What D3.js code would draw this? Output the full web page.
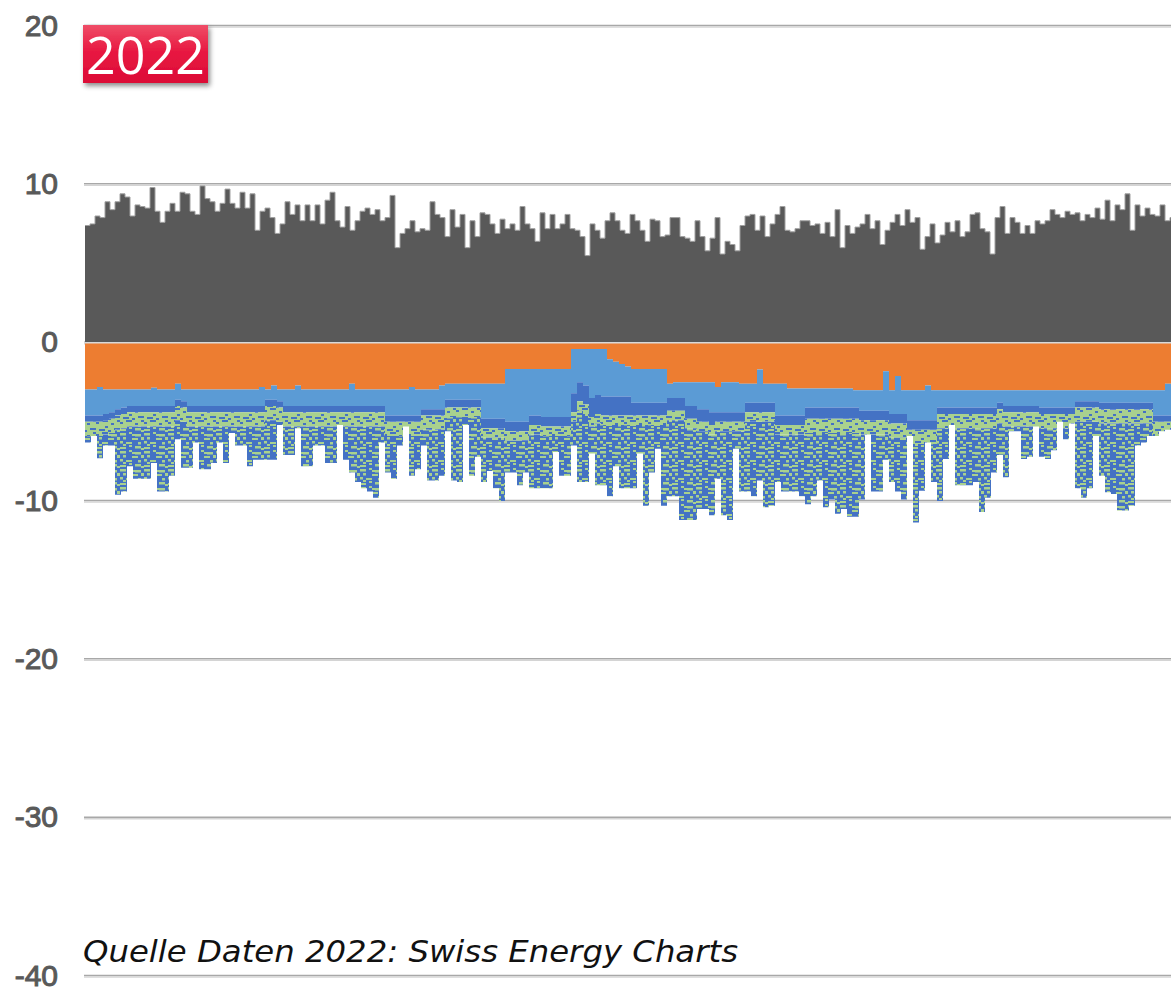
<!DOCTYPE html>
<html>
<head>
<meta charset="utf-8">
<script src="https://cdn.jsdelivr.net/npm/d3@7"></script>
<style>
  html, body { margin: 0; padding: 0; background: #fff; }
</style>
</head>
<body>
<div id="chart"></div>
<script>
// Positive side (grey), one value every ~5px of the original
const production = [
  7.4,7.5,8.0,7.9,8.9,8.4,8.9,9.4,9.2,8.0,
  8.7,8.6,8.5,9.8,8.3,7.6,8.3,8.8,8.3,9.5,
  9.4,8.3,8.1,9.9,9.1,8.9,8.3,8.8,9.7,8.8,
  8.5,9.5,8.5,9.4,7.1,8.3,8.5,7.9,6.9,7.5,
  8.9,8.1,8.7,7.7,8.7,7.7,8.7,7.5,9.0,9.5,
  7.7,7.3,8.6,7.1,7.7,8.3,8.5,8.1,8.4,7.7,
  7.9,9.3,6.0,6.9,7.2,7.7,7.0,7.2,7.1,8.9,
  8.1,7.9,6.7,8.4,7.3,8.1,6.0,7.7,6.7,8.2,
  8.1,7.5,6.9,7.8,7.2,7.5,7.1,8.6,7.5,7.2,
  6.4,8.2,7.2,8.1,7.2,7.5,8.1,7.2,7.1,6.7,
  5.5,7.5,7.1,6.6,7.7,8.2,7.7,7.1,6.9,8.1,
  7.7,7.1,6.4,7.8,7.7,6.7,6.8,7.9,7.9,6.7,
  6.6,6.4,7.7,6.7,5.8,6.6,7.9,5.6,6.4,6.2,
  5.8,7.4,8.0,8.1,7.1,8.0,6.7,7.5,8.1,8.6,
  7.1,7.0,7.2,7.7,7.7,7.4,7.5,6.9,7.6,6.7,
  8.4,6.0,7.4,6.9,7.3,7.5,8.1,7.2,7.7,6.2,
  7.1,7.6,8.1,7.4,8.4,7.6,7.9,5.9,6.7,7.5,
  6.3,6.8,7.6,7.0,7.7,6.7,7.0,8.1,8.2,7.2,
  7.0,5.6,7.9,8.6,6.9,7.9,7.6,6.9,7.4,6.9,
  7.7,7.5,7.7,8.4,8.1,7.9,8.3,8.1,8.2,7.7,
  8.1,7.9,8.5,7.8,9.0,7.7,8.7,8.4,9.4,7.1,
  8.7,8.0,8.5,8.1,8.0,8.7,7.7,7.9
];

// Negative side, one value every ~6px (magnitudes, stacked downward)
const orange = [
  2.95,2.95,2.8,2.95,2.95,2.95,2.95,2.95,2.95,2.95,
  2.95,2.85,2.95,2.95,2.95,2.6,2.95,2.95,2.95,2.95,
  2.95,2.95,2.95,2.95,2.95,2.95,2.95,2.95,2.95,2.8,
  2.95,2.7,2.95,2.95,2.95,2.7,2.95,2.95,2.95,2.95,
  2.95,2.95,2.95,2.95,2.6,2.95,2.95,2.95,2.95,2.95,
  2.95,2.95,2.95,2.95,2.8,2.95,2.95,2.95,2.95,2.7,
  2.6,2.6,2.6,2.6,2.6,2.6,2.6,2.6,2.6,2.6,
  1.66,1.66,1.66,1.66,1.66,1.66,1.66,1.66,1.66,1.66,
  1.66,0.4,0.4,0.4,0.4,0.4,0.4,1.05,1.2,1.35,
  1.5,1.66,1.66,1.66,1.66,1.66,1.66,2.6,2.5,2.5,
  2.5,2.5,2.5,2.5,2.5,2.8,2.5,2.5,2.5,2.6,
  2.6,2.6,1.7,2.6,2.6,2.6,2.6,2.9,2.9,2.9,
  2.9,2.9,2.9,2.9,2.9,2.9,2.9,2.9,3.0,3.0,
  3.0,3.0,3.0,1.8,3.0,2.1,3.0,3.0,3.0,3.0,
  2.7,3.0,3.0,3.0,3.0,3.0,3.0,3.0,3.0,3.0,
  3.0,3.0,3.0,3.0,3.0,3.0,3.0,3.0,3.0,3.0,
  3.0,3.0,3.0,3.0,3.0,3.0,3.0,3.0,3.0,3.0,
  3.0,3.0,3.0,3.0,3.0,3.0,3.0,3.0,3.0,3.0,
  2.6
];

const lightBlue = [
  1.65,1.65,1.8,1.55,1.45,1.25,1.15,1.05,1.05,1.05,
  1.05,1.15,1.05,1.05,1.05,1.0,0.75,1.05,1.05,1.05,
  1.05,1.05,1.05,1.05,1.05,1.05,1.05,1.05,1.05,1.2,
  0.65,0.9,0.75,1.05,1.05,1.3,1.05,1.05,1.05,1.05,
  1.05,1.05,1.05,1.05,1.4,1.05,1.05,1.05,1.05,1.05,
  1.65,1.65,1.65,1.65,1.8,1.65,1.25,1.25,1.25,1.5,
  1.0,1.0,1.0,1.0,1.0,1.0,2.2,2.2,2.2,2.2,
  3.34,3.34,3.34,3.34,2.94,2.94,3.04,3.04,3.04,3.04,
  3.04,2.8,2.1,2.3,3.1,2.9,3.0,2.35,2.2,2.05,
  1.9,2.14,2.14,2.14,2.14,2.14,2.14,0.9,1.0,1.0,
  1.5,1.5,1.7,1.7,1.9,1.6,1.9,1.9,1.9,1.8,
  1.2,1.2,2.1,1.2,1.2,2.0,2.0,1.7,1.7,1.7,
  1.2,1.2,1.2,1.2,1.2,1.2,1.2,1.2,1.1,1.3,
  1.3,1.3,1.3,2.5,1.5,2.4,1.5,1.9,1.9,1.9,
  2.2,1.9,1.1,1.1,1.1,1.1,1.1,1.1,1.1,1.1,
  1.1,1.1,0.8,1.0,1.0,1.0,1.0,1.0,1.0,1.1,
  1.1,1.1,1.1,1.1,1.1,0.7,0.7,0.7,0.7,0.8,
  0.8,0.8,0.8,0.8,0.8,0.8,0.8,0.8,1.6,1.6,
  2.0
];

const darkBlue = [
  0.4,0.4,0.4,0.4,0.4,0.4,0.4,0.4,0.4,0.4,
  0.4,0.4,0.4,0.4,0.4,0.4,0.4,0.4,0.4,0.4,
  0.4,0.4,0.4,0.4,0.4,0.4,0.4,0.4,0.4,0.4,
  0.4,0.4,0.4,0.4,0.4,0.4,0.4,0.4,0.4,0.4,
  0.4,0.4,0.4,0.4,0.4,0.4,0.4,0.4,0.4,0.4,
  0.4,0.4,0.4,0.4,0.4,0.4,0.4,0.4,0.4,0.4,
  0.5,0.5,0.5,0.5,0.5,0.5,0.6,0.6,0.6,0.6,
  0.6,0.6,0.6,0.6,0.6,0.6,0.6,0.6,0.6,0.6,
  0.6,1.2,1.2,1.2,1.2,1.2,1.2,1.2,1.2,1.2,
  1.2,0.8,0.8,0.8,0.8,0.8,0.8,0.8,0.8,0.8,
  0.8,0.8,0.8,0.8,0.8,0.6,0.6,0.6,0.6,0.6,
  0.6,0.6,0.6,0.6,0.6,0.6,0.6,0.6,0.6,0.6,
  0.7,0.7,0.7,0.7,0.7,0.7,0.7,0.7,0.7,0.6,
  0.6,0.6,0.6,0.6,0.6,0.6,0.6,0.6,0.6,0.6,
  0.6,0.6,0.4,0.4,0.4,0.4,0.4,0.4,0.4,0.4,
  0.4,0.4,0.4,0.4,0.4,0.4,0.4,0.4,0.4,0.4,
  0.4,0.4,0.4,0.4,0.4,0.4,0.4,0.4,0.4,0.4,
  0.4,0.4,0.4,0.4,0.4,0.4,0.4,0.4,0.4,0.4,
  0.4
];

const green = [
  0.9,0.9,0.9,0.9,0.9,0.9,0.9,0.9,0.9,0.9,
  0.9,0.9,0.9,0.9,0.9,0.9,0.9,0.9,0.9,0.9,
  0.9,0.9,0.9,0.9,0.9,0.9,0.9,0.9,0.9,0.9,
  0.9,0.9,0.9,0.9,0.9,0.9,0.9,0.9,0.9,0.9,
  0.9,0.9,0.9,0.9,0.9,0.9,0.9,0.9,0.9,0.9,
  0.9,0.9,0.9,0.9,0.9,0.9,0.9,0.9,0.9,0.9,
  0.6,0.6,0.6,0.6,0.6,0.6,0.6,0.6,0.6,0.6,
  0.6,0.6,0.6,0.6,0.6,0.6,0.6,0.6,0.6,0.6,
  0.6,0.6,0.6,0.6,0.6,0.6,0.6,0.6,0.6,0.6,
  0.6,0.6,0.6,0.6,0.6,0.6,0.6,0.6,0.6,0.6,
  0.6,0.6,0.6,0.6,0.6,0.6,0.6,0.6,0.6,0.6,
  0.6,0.6,0.6,0.6,0.6,0.6,0.6,0.6,0.6,0.6,
  0.9,0.9,0.9,0.9,0.9,0.9,0.9,0.9,0.9,0.9,
  0.9,0.9,0.9,0.9,0.9,0.9,0.9,0.9,0.9,0.9,
  0.9,0.9,0.9,0.9,0.9,0.9,0.9,0.9,0.9,0.9,
  0.9,0.9,0.9,0.9,0.9,0.9,0.9,0.9,0.9,0.9,
  0.9,0.9,0.9,0.9,0.9,0.9,0.9,0.9,0.9,0.9,
  0.9,0.9,0.9,0.9,0.9,0.9,0.9,0.9,0.9,0.9,
  0.9
];

// total depth of the negative stack (bottom edge)
const totalNeg = [
  6.3,5.9,7.3,6.5,6.5,9.6,9.4,7.8,8.6,8.6,
  8.6,7.6,9.4,9.4,8.4,6.1,7.9,7.9,6.3,8.0,
  8.0,7.6,6.3,7.6,5.7,6.5,6.5,7.8,7.4,7.4,
  7.4,7.4,5.2,7.1,7.1,5.4,7.8,7.8,6.5,6.5,
  7.6,7.6,5.2,7.4,8.2,8.8,9.2,9.4,9.8,6.3,
  8.2,8.6,6.5,5.3,8.4,8.0,6.5,8.7,8.7,8.4,
  5.6,8.7,8.8,5.2,8.4,7.2,8.8,8.1,9.2,10.0,
  8.2,8.2,9.0,8.2,9.2,9.2,9.2,9.2,6.9,8.4,
  8.4,6.5,8.8,8.8,7.0,9.0,9.0,9.7,7.8,9.2,
  9.2,9.2,7.0,10.3,8.2,6.7,10.3,9.7,9.7,11.2,
  11.2,11.2,10.5,10.5,10.9,8.6,10.9,11.2,6.7,9.4,
  9.4,9.7,8.7,10.4,10.3,8.8,9.4,9.4,9.4,9.7,
  10.2,9.7,8.7,10.4,9.9,10.8,10.5,11.0,11.0,9.9,
  5.8,9.4,9.4,7.4,8.8,9.4,9.9,5.9,11.35,9.35,
  6.3,8.8,10.0,7.35,5.2,9.0,9.0,9.0,8.8,10.7,
  9.8,8.2,7.1,8.5,5.6,5.6,7.35,7.2,5.3,7.2,
  7.35,6.8,5.0,6.1,5.1,9.2,9.8,9.2,5.9,8.4,
  9.45,9.55,10.6,10.6,10.3,6.5,6.3,5.9,5.9,5.6,
  5.5
];

const yTicks = [20, 10, 0, -10, -20, -30, -40];
const yearLabel = '2022';
const sourceLabel = 'Quelle Daten 2022: Swiss Energy Charts';

const W = 1171, H = 987;
const plotLeft = 85, plotRight = 1171;

const y = d3.scaleLinear().domain([-40, 20]).range([976, 26]);
const xPos = d3.scaleLinear().domain([0, production.length]).range([plotLeft, plotLeft + 5 * production.length]);
const xNeg = d3.scaleLinear().domain([0, totalNeg.length]).range([plotLeft, plotRight]);

const svg = d3.select('#chart').append('svg')
  .attr('width', W).attr('height', H)
  .style('background', '#fff');

const defs = svg.append('defs');

// speckle textures for the hourly blue/green mix (3px wide columns)
const patBlue = defs.append('pattern').attr('id', 'mixBlue')
  .attr('patternUnits', 'userSpaceOnUse').attr('width', 24).attr('height', 18);
patBlue.append('rect').attr('width', 24).attr('height', 18).attr('fill', '#4472C4');
[[0, 1, 6, 2.5], [9, 0, 3, 2], [15, 2, 6, 2.5], [3, 5, 3, 2.5], [12, 6, 6, 2], [21, 5, 3, 3],
 [0, 9, 3, 2.5], [6, 10, 6, 2], [18, 10, 3, 2.5], [9, 13, 3, 2], [15, 14, 6, 2.5], [0, 15, 6, 2],
 [21, 16, 3, 2], [12, 2, 3, 2], [3, 12, 3, 2]]
  .forEach(r => {
    patBlue.append('rect').attr('x', r[0]).attr('y', r[1]).attr('width', r[2]).attr('height', r[3]).attr('fill', '#A9D18E');
  });

const patGreen = defs.append('pattern').attr('id', 'mixGreen')
  .attr('patternUnits', 'userSpaceOnUse').attr('width', 24).attr('height', 12);
patGreen.append('rect').attr('width', 24).attr('height', 12).attr('fill', '#A9D18E');
[[0, 2, 3, 2], [6, 0, 6, 2], [15, 3, 3, 2], [9, 6, 3, 2], [18, 8, 6, 2], [3, 9, 6, 2], [21, 0, 3, 2], [12, 10, 3, 2]]
  .forEach(r => {
    patGreen.append('rect').attr('x', r[0]).attr('y', r[1]).attr('width', r[2]).attr('height', r[3]).attr('fill', '#4472C4');
  });

const grad = defs.append('linearGradient').attr('id', 'badgeGrad')
  .attr('x1', 0).attr('y1', 0).attr('x2', 0).attr('y2', 1);
grad.append('stop').attr('offset', '0%').attr('stop-color', '#EF4D67');
grad.append('stop').attr('offset', '45%').attr('stop-color', '#E81942');
grad.append('stop').attr('offset', '100%').attr('stop-color', '#DC0A36');

const shadow = defs.append('filter').attr('id', 'badgeShadow')
  .attr('x', '-20%').attr('y', '-20%').attr('width', '150%').attr('height', '160%');
shadow.append('feDropShadow').attr('dx', 2).attr('dy', 3).attr('stdDeviation', 2.5)
  .attr('flood-color', '#000').attr('flood-opacity', 0.45);

// Gridlines
const grid = svg.append('g');
yTicks.forEach(t => {
  grid.append('line').attr('x1', 84).attr('x2', W)
    .attr('y1', y(t) - 0.5).attr('y2', y(t) - 0.5)
    .attr('stroke', '#A8A8A8').attr('stroke-width', 1.5);
  grid.append('line').attr('x1', 84).attr('x2', W)
    .attr('y1', y(t) + 1).attr('y2', y(t) + 1)
    .attr('stroke', '#D4D4D4').attr('stroke-width', 1.5);
});

// Y axis labels (plain hyphen as in the original)
const axis = svg.append('g')
  .attr('transform', 'translate(58,0)')
  .call(d3.axisLeft(y).tickValues(yTicks).tickSize(0).tickPadding(0).tickFormat(d => String(d)));
axis.select('.domain').remove();
axis.selectAll('text')
  .attr('dy', '0.3em')
  .attr('fill', '#595959')
  .attr('stroke', '#595959')
  .attr('stroke-width', 1)
  .style('font-family', '"Liberation Sans", Arial, sans-serif')
  .style('font-size', '30px');

// Positive stack (grey)
const posPts = production.map((v, i) => [i, v]);
posPts.push([production.length, production[production.length - 1]]);

svg.append('path')
  .datum(posPts)
  .attr('fill', '#595959')
  .attr('d', d3.area().curve(d3.curveStepAfter)
    .x(d => xPos(d[0])).y0(y(0)).y1(d => y(d[1])));

svg.append('path')
  .datum(posPts)
  .attr('fill', 'none')
  .attr('stroke', '#A0A0A0')
  .attr('stroke-width', 1)
  .attr('d', d3.line().curve(d3.curveStepAfter)
    .x(d => xPos(d[0])).y(d => y(d[1])));

// Negative stack
const rows = totalNeg.map((t, i) => {
  const o = orange[i], lb = lightBlue[i];
  const db = Math.max(0, Math.min(darkBlue[i], t - o - lb));
  const rem = Math.max(0, t - o - lb - db);
  const g = Math.min(green[i], rem);
  return { orange: o, lightBlue: lb, darkBlue: db, green: g, mix: rem - g };
});
rows.push(Object.assign({}, rows[rows.length - 1]));

const keys = ['orange', 'lightBlue', 'darkBlue', 'green', 'mix'];
const fills = {
  orange: '#ED7D31',
  lightBlue: '#5B9BD5',
  darkBlue: '#4472C4',
  green: 'url(#mixGreen)',
  mix: 'url(#mixBlue)'
};

const stacked = d3.stack().keys(keys)(rows);
const negArea = d3.area().curve(d3.curveStepAfter)
  .x((d, i) => xNeg(i))
  .y0(d => y(-d[0]))
  .y1(d => y(-d[1]));

svg.append('g').selectAll('path')
  .data(stacked).enter().append('path')
  .attr('fill', d => fills[d.key])
  .attr('d', negArea);

// zero line between the stacks
svg.append('line')
  .attr('x1', 84).attr('x2', W)
  .attr('y1', y(0)).attr('y2', y(0))
  .attr('stroke', '#D9D9D9').attr('stroke-width', 1.5);

// Year badge
const badge = svg.append('g');
badge.append('rect')
  .attr('x', 83).attr('y', 25).attr('width', 125).attr('height', 58)
  .attr('fill', 'url(#badgeGrad)')
  .attr('filter', 'url(#badgeShadow)');
badge.append('text')
  .attr('x', 145.5).attr('y', 74)
  .attr('text-anchor', 'middle')
  .attr('fill', '#fff')
  .style('font-family', '"Open Sans", "Noto Sans", sans-serif')
  .style('font-size', '52px')
  .text(yearLabel);

// Source note
svg.append('text')
  .attr('x', 83).attr('y', 962)
  .attr('fill', '#111')
  .attr('textLength', 655)
  .attr('lengthAdjust', 'spacingAndGlyphs')
  .style('font-family', '"DejaVu Sans", Verdana, sans-serif')
  .style('font-style', 'italic')
  .style('font-size', '31px')
  .text(sourceLabel);
</script>
</body>
</html>
